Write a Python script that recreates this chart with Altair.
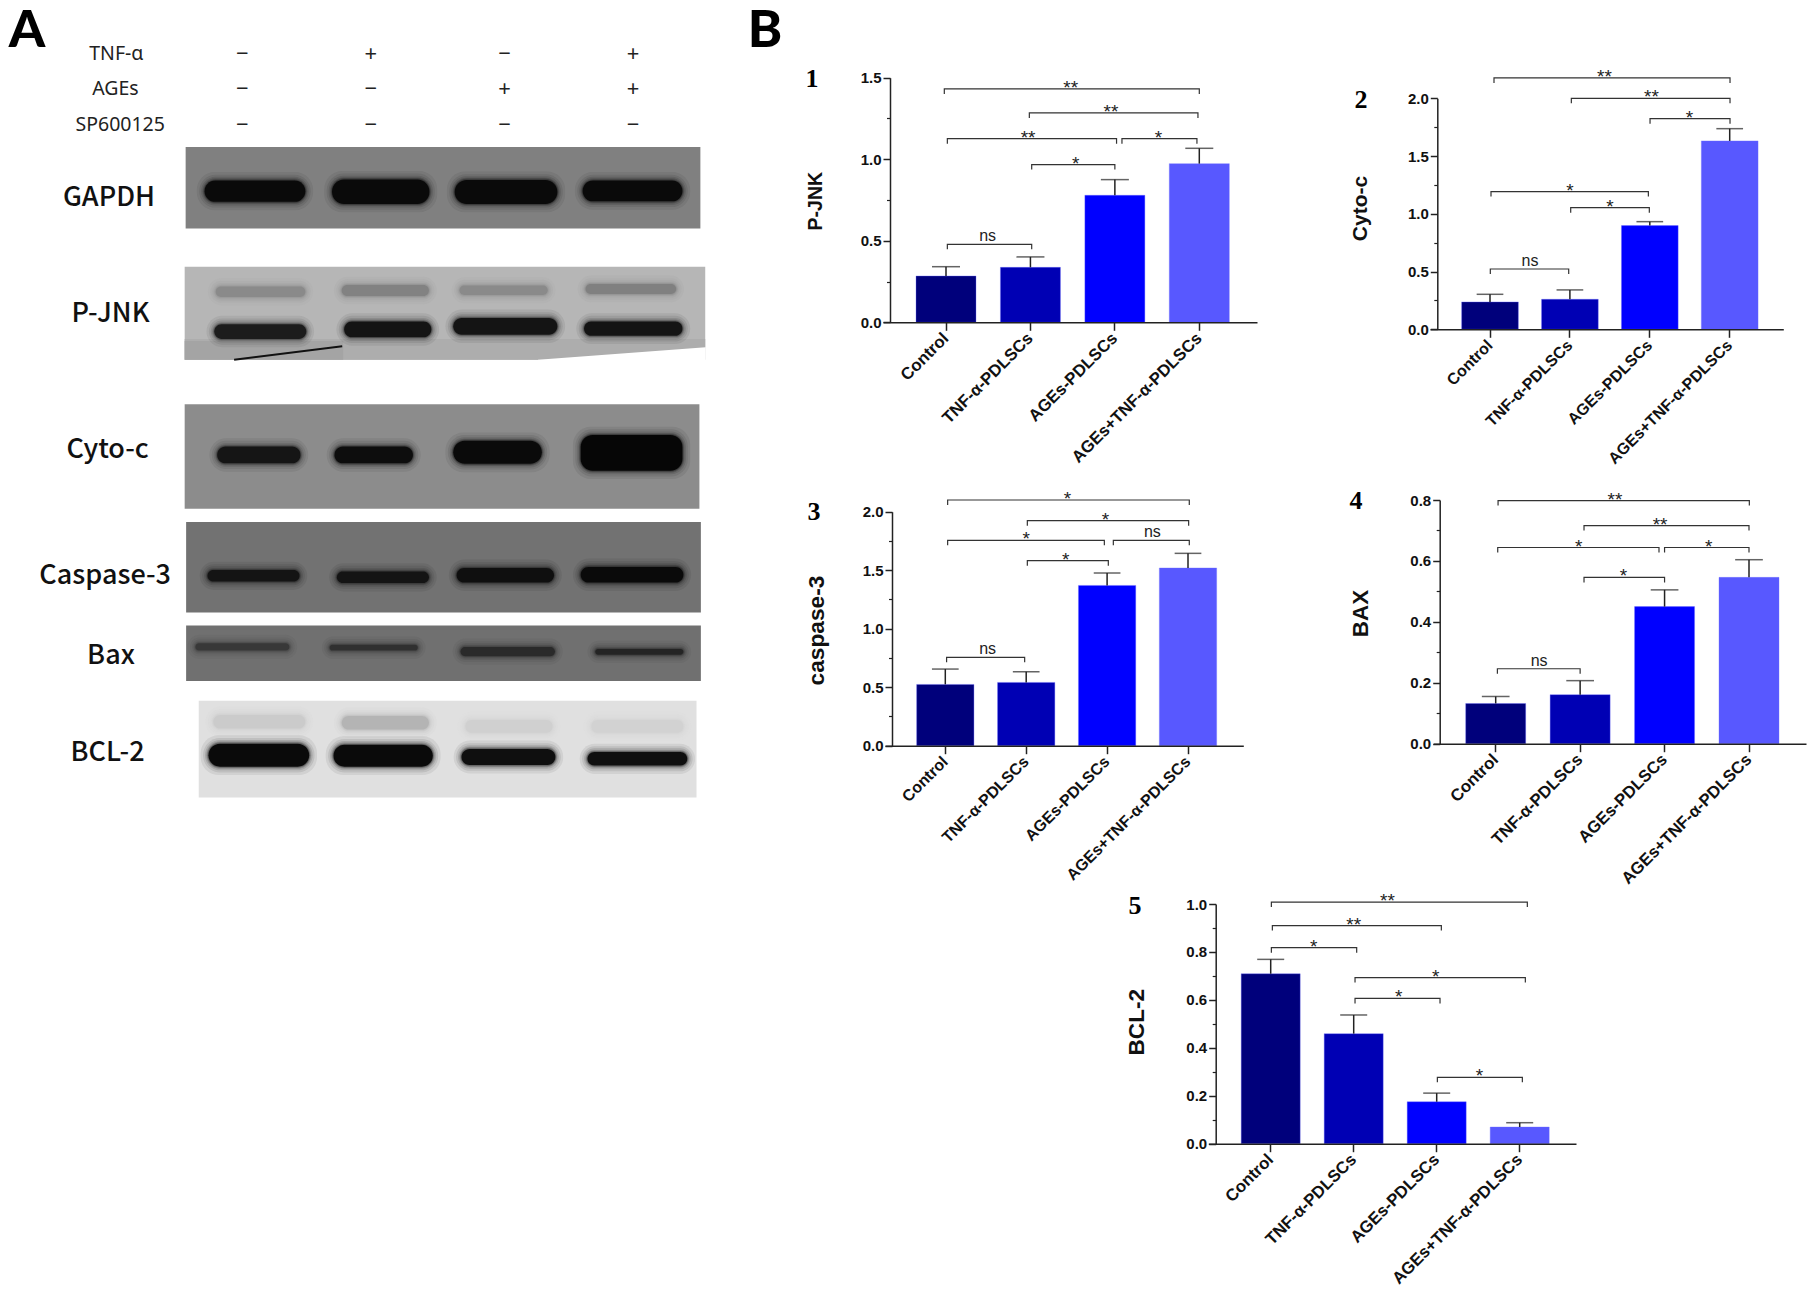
import altair as alt
import pandas as pd

W, H, M = 1799, 1280, 8
GROUPS = ["Control", "TNF-α-PDLSCs", "AGEs-PDLSCs", "AGEs+TNF-α-PDLSCs"]
BAR_COLORS = ["#00007b", "#0000b4", "#0000ff", "#5858ff"]
INK = "#222222"

# ---- Panel B values -------------------------------------------------------
pjnk_vals = [0.284, 0.337, 0.779, 0.973]
pjnk_tops = [0.341, 0.401, 0.875, 1.067]
pjnk_brk = [(-0.02, 3.0, 1.431, "**", 1.476), (0.987, 2.984, 1.284, "**", 1.954),
            (0.016, 2.02, 1.126, "**", 0.972), (2.084, 2.972, 1.126, "*", 2.515),
            (1.015, 2.0, 0.967, "*", 1.535), (0.016, 1.015, 0.478, "ns", 0.493)]
cyto_vals = [0.237, 0.26, 0.898, 1.631]
cyto_tops = [0.303, 0.341, 0.932, 1.737]
cyto_brk = [(0.05, 3.004, 2.176, "**", 1.432), (1.018, 3.004, 2.0, "**", 2.02),
            (2.003, 3.004, 1.824, "*", 2.495), (0.0125, 1.982, 1.192, "*", 1.0),
            (1.01, 1.994, 1.053, "*", 1.5), (0.004, 0.985, 0.522, "ns", 0.5)]
casp_vals = [0.524, 0.541, 1.37, 1.519]
casp_tops = [0.655, 0.632, 1.476, 1.644]
casp_brk = [(0.029, 3.016, 2.1, "*", 1.509), (1.014, 3.008, 1.923, "*", 1.98),
            (0.029, 1.966, 1.755, "*", 1.0), (2.077, 3.016, 1.755, "ns", 2.56),
            (1.014, 2.015, 1.581, "*", 1.487), (0.016, 0.981, 0.755, "ns", 0.523)]
bax_vals = [0.132, 0.161, 0.45, 0.546]
bax_tops = [0.155, 0.207, 0.505, 0.604]
bax_brk = [(0.028, 3.004, 0.798, "**", 1.413), (1.046, 3.0, 0.716, "**", 1.947),
           (0.024, 1.934, 0.644, "*", 0.983), (2.0, 3.0, 0.644, "*", 2.522),
           (1.046, 2.0, 0.546, "*", 1.512), (0.02, 1.0, 0.246, "ns", 0.514)]
bcl_vals = [0.709, 0.459, 0.175, 0.0695]
bcl_tops = [0.769, 0.537, 0.211, 0.0876]
bcl_brk = [(0.008, 3.092, 1.008, "**", 1.406), (0.02, 2.056, 0.91, "**", 1.0),
           (0.008, 1.036, 0.818, "*", 0.518), (1.016, 3.068, 0.693, "*", 1.988),
           (1.016, 2.04, 0.606, "*", 1.542), (2.008, 3.032, 0.277, "*", 2.514)]

# ---- Panel A content (gel ruler units) ------------------------------------
lanes = [500, 765, 1041, 1306]
treat_rows = [("TNF-α", 240, 103, ["−", "+", "−", "+"]),
              ("AGEs", 238, 171, ["−", "−", "+", "+"]),
              ("SP600125", 248, 239, ["−", "−", "−", "−"])]
membranes = [(383, 1445, 281, 437, "#808080"), (381, 1455, 510, 688, "#b6b6b6"),
             (381, 1443, 773, 973, "#8c8c8c"), (384, 1446, 998, 1171, "#727272"),
             (384, 1446, 1196, 1302, "#707070"), (410, 1437, 1340, 1525, "#e0e0e0")]
patches = [(381, 1455, 648, 688, "#adadad"), (381, 708, 652, 688, "#a4a4a4")]
cut_x = [1110, 1456]
cut_top = [688, 664]
cut_bottom = [689, 689]
scar_x = [483, 706]
scar_y = [688, 662]
blot_names = [("GAPDH", 225, 379), ("P-JNK", 228, 600), ("Cyto-c", 222, 861),
              ("Caspase-3", 217, 1102), ("Bax", 229, 1255), ("BCL-2", 222, 1440)]
bands = [
    # GAPDH
    (422, 630, 345, 386, "#0a0a0a"), (685, 886, 343, 390, "#0a0a0a"),
    (938, 1150, 344, 390, "#0a0a0a"), (1202, 1408, 345, 385, "#0a0a0a"),
    # P-JNK
    (445, 630, 548, 568, "#8a8a8a"), (705, 885, 545, 566, "#828282"),
    (948, 1130, 546, 564, "#8a8a8a"), (1208, 1395, 543, 562, "#808080"),
    (442, 632, 620, 648, "#1c1c1c"), (710, 890, 615, 645, "#141414"),
    (935, 1150, 608, 640, "#141414"), (1205, 1408, 615, 642, "#141414"),
    # Cyto-c
    (448, 620, 854, 886, "#151515"), (690, 852, 854, 886, "#0d0d0d"),
    (935, 1118, 843, 887, "#0a0a0a"), (1198, 1408, 832, 900, "#060606"),
    # Caspase-3
    (428, 618, 1090, 1112, "#141414"), (695, 885, 1093, 1115, "#141414"),
    (942, 1143, 1086, 1114, "#0f0f0f"), (1198, 1410, 1084, 1114, "#0a0a0a"),
    # Bax
    (403, 597, 1230, 1244, "#383838"), (680, 862, 1233, 1244, "#303030"),
    (950, 1145, 1237, 1255, "#2a2a2a"), (1228, 1410, 1241, 1252, "#242424"),
    # BCL-2
    (440, 630, 1367, 1393, "#cbcbcb"), (705, 885, 1369, 1395, "#b4b4b4"),
    (960, 1140, 1377, 1401, "#d0d0d0"), (1220, 1410, 1377, 1401, "#d2d2d2"),
    (430, 638, 1422, 1466, "#0a0a0a"), (688, 893, 1424, 1466, "#0a0a0a"),
    (952, 1146, 1432, 1463, "#0f0f0f"), (1212, 1418, 1438, 1464, "#0f0f0f"),
]

# ---- helpers ---------------------------------------------------------------
def blank():
    return alt.Chart(alt.Data(values=[{"k": 0}]))

def note(text, x, y, size, font, weight="normal", color="#000000", angle=0):
    return blank().mark_text(text=text, fontSize=size, font=font, fontWeight=weight,
                             color=color, align="center", baseline="middle", angle=angle
                             ).encode(x=alt.value(x - M), y=alt.value(y - M))

def panel(name, vals, tops, brackets, ymax, major, minor, num, num_xy,
          ax_x, y0, y1, rng, centers, bw, cap, title_xy, title_size, label_size):
    n = len(GROUPS)
    step = (centers[-1] - centers[0]) / (n - 1)
    pi = 1 - bw / step
    space = (rng[1] - rng[0]) - (n - pi) * step
    po = space / (2 * step)
    al = (centers[0] - bw / 2 - rng[0]) / space
    xband = alt.Scale(type="band", domain=GROUPS, range=[rng[0] - M, rng[1] - M],
                      paddingInner=pi, paddingOuter=po, align=al)
    yscale = alt.Scale(domain=[0, ymax], range=[y0 - M, y1 - M], nice=False, zero=False)
    xlin = alt.Scale(domain=[0, 3], range=[centers[0] - M, centers[-1] - M], nice=False, zero=False)

    df = pd.DataFrame({"g": GROUPS, "v": vals, "t": tops, "c": BAR_COLORS})
    x_axis = alt.Axis(orient="bottom", offset=-(H - (y0 - M)), title=None, labelAngle=315,
                      labelAlign="right", labelBaseline="middle", labelFont="Liberation Sans",
                      labelFontWeight="bold", labelFontSize=label_size, labelColor="#111111",
                      labelPadding=5, labelOverlap=False, labelBound=False, labelFlush=False,
                      tickSize=8, tickWidth=1.5, tickColor=INK, domainColor=INK, domainWidth=1.5,
                      grid=False, zindex=1)
    y_axis = alt.Axis(orient="left", offset=-(ax_x - M), values=major, format=".1f", title=name,
                      titleFont="Liberation Sans", titleFontWeight="bold", titleFontSize=title_size,
                      titleColor="#111111", titleAngle=270, titleAlign="center",
                      titleBaseline="middle", titleX=title_xy[0] - ax_x, titleY=title_xy[1] - M,
                      labelFont="Liberation Sans", labelFontWeight="bold", labelFontSize=15,
                      labelColor="#111111", labelPadding=2, labelOverlap=False, labelBound=False,
                      labelFlush=False, tickSize=7, tickWidth=1.5, tickColor=INK,
                      domainColor=INK, domainWidth=1.5, grid=False, zindex=1)
    minor_axis = alt.Axis(orient="left", offset=-(ax_x - M), values=minor, labels=False, title=None,
                          domain=False, tickSize=3.5, tickWidth=1.2, tickColor=INK, grid=False)

    bars = alt.Chart(df).mark_bar(stroke="#6a6aff", strokeWidth=0.6, strokeOpacity=0.6).encode(
        x=alt.X("g:N", scale=xband, axis=x_axis, sort=None),
        y=alt.Y("v:Q", scale=yscale, axis=y_axis),
        fill=alt.Fill("c:N", scale=None))
    ticks = alt.Chart(pd.DataFrame({"m": minor})).mark_point(opacity=0).encode(
        y=alt.Y("m:Q", scale=yscale, axis=minor_axis))
    stems = alt.Chart(df).mark_rule(color=INK, strokeWidth=1.5).encode(
        x=alt.X("g:N", scale=xband, axis=None, sort=None),
        y=alt.Y("v:Q", scale=yscale, axis=None), y2="t:Q")
    caps = alt.Chart(df).mark_tick(color=INK, thickness=1.5, size=cap, orient="horizontal").encode(
        x=alt.X("g:N", scale=xband, axis=None, sort=None),
        y=alt.Y("t:Q", scale=yscale, axis=None))

    drop = 5.0 * ymax / (y0 - y1)
    rows = []
    for i, (a, b, lvl, lab, lx) in enumerate(brackets):
        for j, (px, py) in enumerate([(a, lvl - drop), (a, lvl), (b, lvl), (b, lvl - drop)]):
            rows.append({"id": i, "o": j, "px": px, "py": py})
    lines = alt.Chart(pd.DataFrame(rows)).mark_line(color="#333333", strokeWidth=1.2).encode(
        x=alt.X("px:Q", scale=xlin, axis=None),
        y=alt.Y("py:Q", scale=yscale, axis=None),
        detail="id:N", order="o:Q")
    lab_df = pd.DataFrame([{"lab": l, "px": lx, "py": lvl} for a, b, lvl, l, lx in brackets])
    stars = alt.Chart(lab_df[lab_df.lab != "ns"]).mark_text(
        font="Liberation Sans", fontSize=19, color="#222222", baseline="alphabetic", dy=5).encode(
        x=alt.X("px:Q", scale=xlin, axis=None), y=alt.Y("py:Q", scale=yscale, axis=None), text="lab:N")
    ns = alt.Chart(lab_df[lab_df.lab == "ns"]).mark_text(
        font="Liberation Sans", fontSize=16, color="#222222", baseline="alphabetic", dy=-3).encode(
        x=alt.X("px:Q", scale=xlin, axis=None), y=alt.Y("py:Q", scale=yscale, axis=None), text="lab:N")
    number = note(num, num_xy[0], num_xy[1], 26, "Liberation Serif", "bold")
    return [bars, ticks, stems, caps, lines, stars, ns, number]

# ---- panel A ---------------------------------------------------------------
gx = alt.Scale(domain=[0, 1568], range=[-M, 760 - M], nice=False, zero=False)
gy = alt.Scale(domain=[0, 1568], range=[-M, 820 - M], nice=False, zero=False)
GX = lambda f: alt.X(f, scale=gx, axis=None)
GY = lambda f: alt.Y(f, scale=gy, axis=None)

cols = ["x1", "x2", "y1", "y2", "c"]
mem_df = pd.DataFrame(membranes, columns=cols)
patch_df = pd.DataFrame(patches, columns=cols)
band_df = pd.DataFrame(bands, columns=cols)

def rects(df, **kw):
    return alt.Chart(df).mark_rect(**kw).encode(
        x=GX("x1:Q"), x2="x2:Q", y=GY("y1:Q"), y2="y2:Q", fill=alt.Fill("c:N", scale=None))

def grown(dx, dy):
    return band_df.assign(x1=band_df.x1 - dx, x2=band_df.x2 + dx, y1=band_df.y1 - dy, y2=band_df.y2 + dy)

mem_layer = rects(mem_df)
patch_layer = rects(patch_df)
cut_layer = alt.Chart(pd.DataFrame({"x": cut_x, "a": cut_top, "b": cut_bottom})).mark_area(color="white").encode(
    x=GX("x:Q"), y=GY("a:Q"), y2="b:Q")
scar_layer = alt.Chart(pd.DataFrame({"x": scar_x, "y": scar_y})).mark_line(color="#111111", strokeWidth=2).encode(
    x=GX("x:Q"), y=GY("y:Q"))
halos = [rects(grown(16, 16), cornerRadius=18, opacity=0.07),
         rects(grown(11, 11), cornerRadius=17, opacity=0.09),
         rects(grown(7, 7), cornerRadius=15, opacity=0.12),
         rects(grown(4, 4), cornerRadius=14, opacity=0.18),
         rects(grown(2, 2), cornerRadius=13, opacity=0.3)]
band_layer = rects(band_df, cornerRadius=12)

sign_rows = [{"s": s, "x": lanes[i], "y": y} for _, _, y, signs in treat_rows for i, s in enumerate(signs)]
sign_layer = alt.Chart(pd.DataFrame(sign_rows)).mark_text(
    font="Noto Sans", fontSize=22, color="#222222", baseline="middle").encode(
    x=GX("x:Q"), y=GY("y:Q"), text="s:N")
treat_layer = alt.Chart(pd.DataFrame([{"s": n, "x": x, "y": y} for n, x, y, _ in treat_rows])).mark_text(
    font="Noto Sans", fontSize=19.5, color="#222222", baseline="middle").encode(
    x=GX("x:Q"), y=GY("y:Q"), text="s:N")
name_layer = alt.Chart(pd.DataFrame(blot_names, columns=["s", "x", "y"])).mark_text(
    font="Noto Sans CJK SC", fontWeight=500, fontSize=27, color="#111111", baseline="middle").encode(
    x=GX("x:Q"), y=GY("y:Q"), text="s:N")

layers = [mem_layer, patch_layer, cut_layer, scar_layer] + halos + [band_layer,
          sign_layer, treat_layer, name_layer,
          note("A", 27, 31, 52, "Lato", 900), note("B", 765, 31, 52, "Lato", 900)]

# ---- panel B ---------------------------------------------------------------
layers += panel("P-JNK", pjnk_vals, pjnk_tops, pjnk_brk, 1.5, [0, 0.5, 1.0, 1.5], [0.25, 0.75, 1.25],
                "1", (812, 79), 890, 322.3, 77.7, (883, 1257), [946, 1030.7, 1115, 1199.3], 60, 28,
                (815, 200.7), 19.5, 16.8)
layers += panel("Cyto-c", cyto_vals, cyto_tops, cyto_brk, 2.0, [0, 0.5, 1.0, 1.5, 2.0], [0.25, 0.75, 1.25, 1.75],
                "2", (1361, 100), 1437.3, 329.3, 98.3, (1430, 1783.3), [1490, 1570, 1649.7, 1729.7], 56.7, 26.7,
                (1360.7, 208), 21, 16)
layers += panel("caspase-3", casp_vals, casp_tops, casp_brk, 2.0, [0, 0.5, 1.0, 1.5, 2.0], [0.25, 0.75, 1.25, 1.75],
                "3", (814, 511.7), 892, 745.7, 511.7, (885, 1243.3), [945.3, 1026.7, 1107.3, 1188], 57.3, 26.7,
                (816.7, 630), 22.7, 16)
layers += panel("BAX", bax_vals, bax_tops, bax_brk, 0.8, [0, 0.2, 0.4, 0.6, 0.8], [0.1, 0.3, 0.5, 0.7],
                "4", (1356, 501), 1439.7, 743.7, 500, (1433.3, 1806), [1495.7, 1580.3, 1664.7, 1749], 60, 27.7,
                (1360, 613), 22.4, 16.8)
layers += panel("BCL-2", bcl_vals, bcl_tops, bcl_brk, 1.0, [0, 0.2, 0.4, 0.6, 0.8, 1.0], [0.1, 0.3, 0.5, 0.7, 0.9],
                "5", (1135, 906), 1215.7, 1143.7, 904, (1208.3, 1576), [1270.7, 1353.7, 1436.7, 1519.7], 59, 27,
                (1136, 1021.7), 22.6, 16.8)

chart = alt.layer(*layers).resolve_scale(x="independent", y="independent").properties(
    width=W, height=H, padding=0, autosize=alt.AutoSizeParams(type="none"), background="white"
).configure_view(stroke=None)

chart.save("out.html", embed_options={"renderer": "svg", "actions": False})
